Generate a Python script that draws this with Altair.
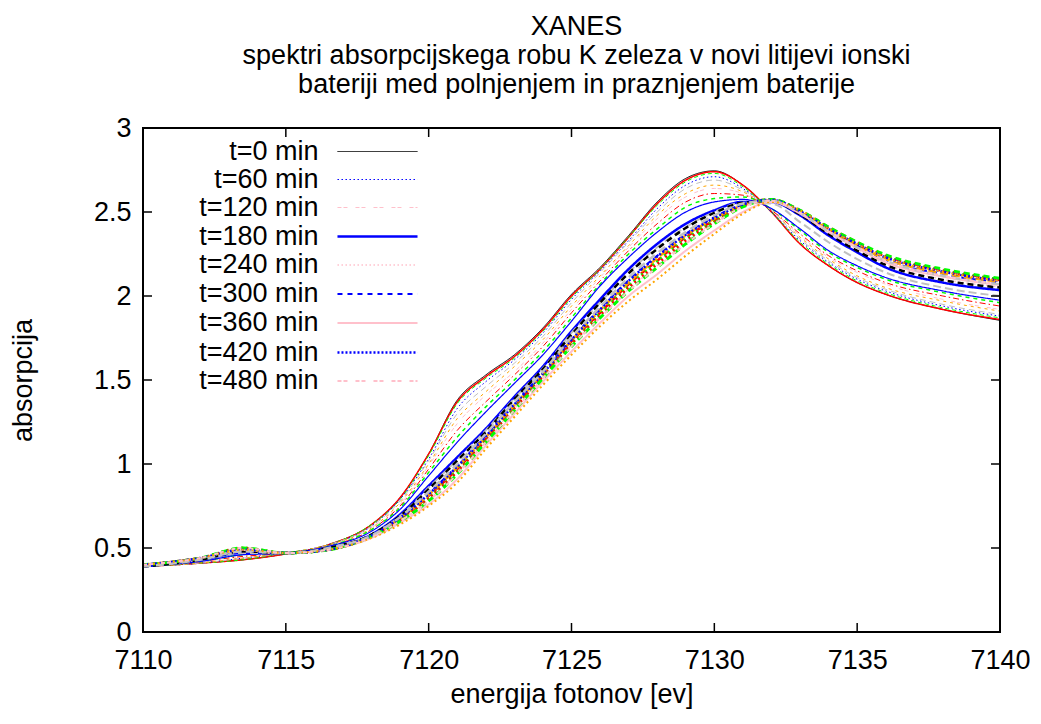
import altair as alt
import pandas as pd

# ---------------- data ----------------
energy = [7110, 7112, 7113.5, 7115, 7116.5, 7118, 7119, 7120, 7121, 7122, 7123, 7124, 7125,
          7126, 7127, 7128, 7129, 7130, 7131, 7132, 7133, 7134, 7135, 7136, 7138, 7140]

t000 = [0.39, 0.41, 0.43, 0.465, 0.52, 0.64, 0.80, 1.06, 1.38, 1.53, 1.65, 1.81, 2.01, 2.17, 2.36, 2.56, 2.70, 2.745, 2.66, 2.50, 2.31, 2.18, 2.08, 2.01, 1.92, 1.855]
t020 = [0.39, 0.41, 0.43, 0.465, 0.52, 0.64, 0.80, 1.06, 1.37, 1.52, 1.64, 1.80, 2.00, 2.16, 2.35, 2.55, 2.69, 2.74, 2.66, 2.50, 2.31, 2.18, 2.08, 2.01, 1.92, 1.86]
t040 = [0.39, 0.41, 0.43, 0.47, 0.52, 0.64, 0.79, 1.05, 1.36, 1.51, 1.63, 1.79, 1.99, 2.16, 2.35, 2.54, 2.68, 2.73, 2.65, 2.50, 2.32, 2.19, 2.09, 2.02, 1.93, 1.87]
t060 = [0.39, 0.41, 0.44, 0.47, 0.52, 0.63, 0.79, 1.03, 1.33, 1.49, 1.62, 1.78, 1.98, 2.15, 2.33, 2.52, 2.66, 2.71, 2.64, 2.50, 2.33, 2.20, 2.10, 2.03, 1.94, 1.88]
t080 = [0.39, 0.41, 0.44, 0.47, 0.52, 0.63, 0.78, 1.02, 1.30, 1.46, 1.60, 1.76, 1.96, 2.14, 2.32, 2.50, 2.64, 2.69, 2.63, 2.51, 2.34, 2.21, 2.11, 2.04, 1.95, 1.89]
t100 = [0.39, 0.41, 0.44, 0.47, 0.52, 0.62, 0.77, 1.00, 1.27, 1.43, 1.58, 1.74, 1.94, 2.12, 2.30, 2.48, 2.61, 2.66, 2.62, 2.51, 2.35, 2.22, 2.12, 2.05, 1.97, 1.91]
t120 = [0.39, 0.42, 0.45, 0.47, 0.51, 0.62, 0.76, 0.99, 1.24, 1.41, 1.55, 1.72, 1.92, 2.11, 2.29, 2.46, 2.59, 2.64, 2.61, 2.51, 2.36, 2.23, 2.14, 2.07, 1.98, 1.92]
t140 = [0.39, 0.42, 0.45, 0.47, 0.51, 0.61, 0.75, 0.97, 1.20, 1.37, 1.53, 1.70, 1.90, 2.09, 2.27, 2.43, 2.56, 2.61, 2.60, 2.51, 2.37, 2.24, 2.15, 2.08, 2.00, 1.94]
t160 = [0.39, 0.42, 0.46, 0.47, 0.51, 0.61, 0.74, 0.95, 1.16, 1.34, 1.50, 1.67, 1.87, 2.07, 2.25, 2.40, 2.53, 2.58, 2.59, 2.52, 2.39, 2.26, 2.17, 2.10, 2.02, 1.96]
t180 = [0.39, 0.43, 0.47, 0.47, 0.50, 0.58, 0.70, 0.87, 1.04, 1.21, 1.40, 1.58, 1.79, 1.98, 2.16, 2.31, 2.43, 2.51, 2.56, 2.56, 2.48, 2.36, 2.26, 2.17, 2.08, 2.035]
t200 = [0.39, 0.42, 0.46, 0.47, 0.51, 0.60, 0.73, 0.93, 1.13, 1.31, 1.48, 1.65, 1.85, 2.06, 2.23, 2.38, 2.50, 2.56, 2.575, 2.52, 2.40, 2.27, 2.18, 2.11, 2.03, 1.975]
t220 = [0.39, 0.43, 0.47, 0.47, 0.50, 0.58, 0.69, 0.86, 1.025, 1.20, 1.39, 1.57, 1.78, 1.96, 2.14, 2.29, 2.41, 2.50, 2.555, 2.55, 2.44, 2.32, 2.22, 2.14, 2.05, 2.00]
t240 = [0.40, 0.44, 0.50, 0.47, 0.49, 0.57, 0.66, 0.79, 0.95, 1.14, 1.33, 1.52, 1.71, 1.88, 2.04, 2.18, 2.32, 2.44, 2.53, 2.565, 2.49, 2.375, 2.28, 2.19, 2.10, 2.055]
t260 = [0.40, 0.44, 0.49, 0.47, 0.49, 0.57, 0.67, 0.81, 0.97, 1.15, 1.34, 1.53, 1.73, 1.90, 2.07, 2.21, 2.35, 2.45, 2.54, 2.575, 2.51, 2.41, 2.32, 2.24, 2.155, 2.10]
t280 = [0.40, 0.44, 0.50, 0.47, 0.49, 0.57, 0.67, 0.80, 0.965, 1.15, 1.34, 1.53, 1.72, 1.90, 2.06, 2.205, 2.34, 2.45, 2.54, 2.575, 2.505, 2.405, 2.31, 2.235, 2.15, 2.10]
t300 = [0.39, 0.43, 0.48, 0.47, 0.50, 0.575, 0.68, 0.825, 0.99, 1.17, 1.36, 1.545, 1.745, 1.925, 2.095, 2.24, 2.37, 2.47, 2.545, 2.57, 2.50, 2.39, 2.30, 2.215, 2.13, 2.08]
t320 = [0.39, 0.43, 0.48, 0.47, 0.50, 0.58, 0.69, 0.85, 1.02, 1.19, 1.385, 1.565, 1.77, 1.96, 2.135, 2.28, 2.405, 2.495, 2.555, 2.563, 2.486, 2.37, 2.27, 2.185, 2.095, 2.05]
t340 = [0.40, 0.44, 0.49, 0.47, 0.49, 0.57, 0.675, 0.815, 0.98, 1.16, 1.35, 1.54, 1.735, 1.915, 2.08, 2.225, 2.36, 2.46, 2.54, 2.57, 2.50, 2.395, 2.30, 2.22, 2.135, 2.085]
t360 = [0.40, 0.44, 0.49, 0.47, 0.49, 0.56, 0.65, 0.76, 0.91, 1.11, 1.30, 1.49, 1.67, 1.84, 2.00, 2.13, 2.27, 2.39, 2.50, 2.56, 2.49, 2.38, 2.285, 2.20, 2.115, 2.065]
t380 = [0.40, 0.44, 0.50, 0.47, 0.49, 0.57, 0.665, 0.795, 0.955, 1.14, 1.33, 1.52, 1.715, 1.885, 2.05, 2.19, 2.33, 2.44, 2.535, 2.573, 2.505, 2.40, 2.31, 2.235, 2.15, 2.095]
t400 = [0.40, 0.44, 0.50, 0.47, 0.49, 0.57, 0.66, 0.78, 0.94, 1.13, 1.32, 1.51, 1.70, 1.87, 2.03, 2.17, 2.31, 2.43, 2.53, 2.575, 2.51, 2.41, 2.32, 2.245, 2.16, 2.105]
t420 = [0.40, 0.44, 0.49, 0.47, 0.49, 0.575, 0.68, 0.82, 0.985, 1.165, 1.355, 1.54, 1.74, 1.92, 2.09, 2.235, 2.365, 2.465, 2.545, 2.572, 2.505, 2.40, 2.31, 2.23, 2.145, 2.09]
t440 = [0.39, 0.43, 0.48, 0.47, 0.50, 0.575, 0.685, 0.835, 1.00, 1.18, 1.37, 1.55, 1.755, 1.935, 2.11, 2.255, 2.38, 2.48, 2.55, 2.567, 2.495, 2.385, 2.29, 2.21, 2.12, 2.07]
t460 = [0.40, 0.44, 0.49, 0.47, 0.49, 0.56, 0.64, 0.75, 0.89, 1.09, 1.28, 1.47, 1.65, 1.82, 1.97, 2.10, 2.24, 2.37, 2.49, 2.56, 2.51, 2.40, 2.31, 2.23, 2.145, 2.09]
t480 = [0.40, 0.44, 0.50, 0.47, 0.49, 0.565, 0.66, 0.78, 0.94, 1.13, 1.32, 1.51, 1.70, 1.87, 2.03, 2.17, 2.31, 2.43, 2.53, 2.567, 2.495, 2.385, 2.29, 2.21, 2.12, 2.07]

spectra = [t000, t020, t040, t060, t080, t100, t120, t140, t160, t180, t200, t220, t240,
           t260, t280, t300, t320, t340, t360, t380, t400, t420, t440, t460, t480]
times = [0, 20, 40, 60, 80, 100, 120, 140, 160, 180, 200, 220, 240,
         260, 280, 300, 320, 340, 360, 380, 400, 420, 440, 460, 480]
legend_times = [0, 60, 120, 180, 240, 300, 360, 420, 480]

x_ticks = [7110, 7115, 7120, 7125, 7130, 7135, 7140]
y_ticks = [0, 0.5, 1, 1.5, 2, 2.5, 3]

# ---------------- styles ----------------
BLACK, RED, GREEN, BLUE, GRAY, ORANGE, PINK = ("#000000", "#ff0000", "#00ff00", "#0000ff",
                                               "#c0c0c0", "#ffa500", "#ffc0cb")
colors = [BLACK, RED, GREEN, BLUE, GRAY, ORANGE, PINK, RED, GREEN, BLUE, BLUE, GRAY, PINK,
          RED, GREEN, BLUE, BLACK, ORANGE, PINK, RED, GREEN, BLUE, GRAY, ORANGE, PINK]
dashes = [[1, 0], [1, 0], [4, 3], [1.5, 2.5], [6, 4], [3, 4], [4, 2, 4, 8], [6, 3, 1.5, 3],
          [4, 4], [1, 0], [1, 0], [8, 4], [1.5, 2.5], [6, 4], [2, 3], [5, 5], [6, 4], [8, 4],
          [1, 0], [2, 3], [6, 4], [2, 2], [8, 5], [2, 3], [4, 2, 4, 8]]
widths = [1, 1.5, 1, 1, 1, 1, 1, 1, 1.5, 2.5, 1.2, 2, 1.5, 2.5, 2.5, 2, 2.5, 2.5, 2, 2.5,
          3, 2.5, 2.5, 2, 2]

names = [f"t={t} min" for t in times]
legend_names = [f"t={t} min" for t in legend_times]

rows = []
for i, (name, vals) in enumerate(zip(names, spectra)):
    for e, a in zip(energy, vals):
        rows.append({"E": e, "A": a, "t": name, "k": i})
df = pd.DataFrame(rows)

FONT = "Liberation Sans"
FS = 27
W, H = 857, 504

xscale = alt.Scale(domain=[7110, 7140], nice=False, zero=False)
yscale = alt.Scale(domain=[0, 3], nice=False)

xaxis = alt.Axis(values=x_ticks, format="d", title="energija fotonov [ev]", labelFlush=False,
                 ticks=False, domain=False, grid=False, labelPadding=15, titlePadding=8)
yaxis = alt.Axis(values=y_ticks, format="~g", title="absorpcija", labelFlush=False,
                 ticks=False, domain=False, grid=False, labelPadding=12, titlePadding=56)

# legend: 29 px rows, 80 px long line samples, labels right-aligned to the left of them
legend = alt.Legend(
    title=None, values=legend_names, orient="none", legendX=193, legendY=8.5,
    symbolType="M-2.76,0H2.76", symbolSize=841, symbolOffset=25.5, labelAlign="right",
    labelOffset=alt.ExprRef(expr="-75"),
    rowPadding=0, padding=0, labelFont=FONT, labelFontSize=FS,
    labelColor="black", labelLimit=400,
)

lines = alt.Chart(df).mark_line(interpolate="monotone", clip=True).encode(
    x=alt.X("E:Q", scale=xscale, axis=xaxis),
    y=alt.Y("A:Q", scale=yscale, axis=yaxis),
    color=alt.Color("t:N", scale=alt.Scale(domain=names, range=colors), legend=legend),
    strokeDash=alt.StrokeDash("t:N", scale=alt.Scale(domain=names, range=dashes), legend=legend),
    strokeWidth=alt.StrokeWidth("t:N", scale=alt.Scale(type="ordinal", domain=names, range=widths),
                                legend=legend),
    detail="k:O",
    order=alt.Order("k:Q"),
)

xt = pd.DataFrame({"E": x_ticks})
yt = pd.DataFrame({"A": y_ticks})
TL = 9
xtick_bottom = alt.Chart(xt).mark_rule(color="black", strokeWidth=1.5).encode(
    x=alt.X("E:Q", scale=xscale, axis=xaxis), y=alt.value(H), y2=alt.value(H - TL))
xtick_top = alt.Chart(xt).mark_rule(color="black", strokeWidth=1.5).encode(
    x=alt.X("E:Q", scale=xscale, axis=xaxis), y=alt.value(0), y2=alt.value(TL))
ytick_left = alt.Chart(yt).mark_rule(color="black", strokeWidth=1.5).encode(
    y=alt.Y("A:Q", scale=yscale, axis=yaxis), x=alt.value(0), x2=alt.value(TL))
ytick_right = alt.Chart(yt).mark_rule(color="black", strokeWidth=1.5).encode(
    y=alt.Y("A:Q", scale=yscale, axis=yaxis), x=alt.value(W - TL), x2=alt.value(W))
frame = alt.Chart(xt).mark_rect(fill=None, stroke="black", strokeWidth=2).encode(
    x=alt.value(0), x2=alt.value(W), y=alt.value(0), y2=alt.value(H))

chart = alt.layer(lines, xtick_bottom, xtick_top, ytick_left, ytick_right, frame).properties(
    width=W, height=H,
    title=alt.Title(
        text=["XANES",
              "spektri absorpcijskega robu K zeleza v novi litijevi ionski",
              "bateriji med polnjenjem in praznjenjem baterije"],
        font=FONT, fontSize=FS, fontWeight="normal", color="black",
        anchor="middle", offset=15, lineHeight=29, dx=5),
    autosize="none",
    padding={"left": 135, "top": 120, "right": 30, "bottom": 80},
).configure_view(stroke=None).configure_axis(
    labelFont=FONT, labelFontSize=FS, labelColor="black",
    titleFont=FONT, titleFontSize=FS, titleFontWeight="normal", titleColor="black",
)

chart.save("out.html", embed_options={"renderer": "svg", "actions": False})
